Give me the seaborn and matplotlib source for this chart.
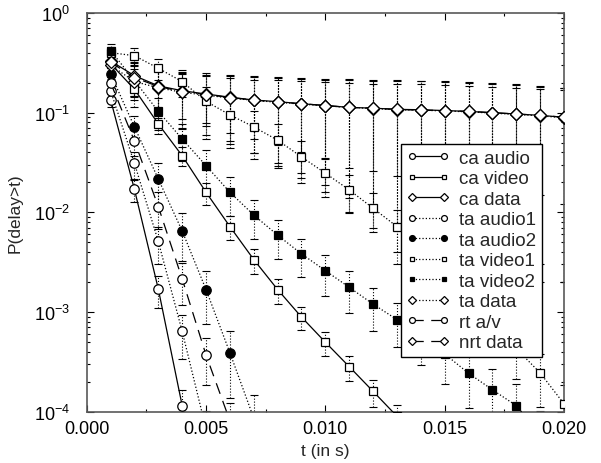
import numpy as np
import matplotlib
matplotlib.use("Agg")
import matplotlib.pyplot as plt
import seaborn as sns
from matplotlib.ticker import MultipleLocator, LogLocator, FormatStrFormatter, NullFormatter

# ---------------- data ----------------
t = [0.001, 0.002, 0.003, 0.004, 0.005, 0.006, 0.007, 0.008, 0.009, 0.010,
     0.011, 0.012, 0.013, 0.014, 0.015, 0.016, 0.017, 0.018, 0.019, 0.020]

ca_audio = [0.135, 0.017, 0.0017, 0.000115]
ca_video = [0.31, 0.172, 0.077, 0.037, 0.0159, 0.0072, 0.00336, 0.00168, 0.00089,
            0.000498, 0.000283, 0.00016, 0.00009]
ca_data = [0.33, 0.235, 0.186, 0.166, 0.154, 0.143, 0.134, 0.129, 0.123, 0.118,
           0.113, 0.111, 0.108, 0.107, 0.105, 0.103, 0.100, 0.097, 0.094, 0.090]
ta_audio1 = [0.166, 0.031, 0.0051, 0.00064, 0.000067]
ta_audio2 = [0.245, 0.072, 0.0216, 0.0065, 0.00168, 0.00039, 0.000086]
ta_video1 = [0.40, 0.373, 0.279, 0.205, 0.130, 0.095, 0.072, 0.053, 0.036, 0.0247,
             0.0168, 0.011, 0.0072, 0.0041, 0.0024, 0.0013, 0.00076, 0.00043,
             0.000245, 0.00012]
ta_video2 = [0.42, 0.21, 0.103, 0.0545, 0.0294, 0.0159, 0.0094, 0.0059, 0.00383,
             0.0026, 0.00177, 0.0012, 0.00084, 0.00057, 0.00038, 0.000243,
             0.000166, 0.000115, 0.00006]
ta_data = [0.30, 0.205, 0.178, 0.160, 0.150, 0.140, 0.133, 0.127, 0.122, 0.117,
           0.113, 0.110, 0.107, 0.106, 0.104, 0.102, 0.099, 0.096, 0.093, 0.089]
rt_av = [0.20, 0.052, 0.0114, 0.00215, 0.00037, 0.000081]
nrt_data = [0.32, 0.225, 0.183, 0.163, 0.152, 0.142, 0.134, 0.128, 0.123, 0.118,
            0.113, 0.111, 0.108, 0.106, 0.105, 0.103, 0.100, 0.097, 0.094, 0.090]

# relative error (fraction of value) per point
ca_audio_err = [0.15, 0.25, 0.35, 0.45]
ca_video_err = [0.10, 0.15, 0.20, 0.22, 0.25, 0.27, 0.28, 0.28, 0.26, 0.27, 0.28, 0.30, 0.30]
ta_audio1_err = [0.15, 0.30, 0.40, 0.47, 0.50]
ta_audio2_err = [0.15, 0.30, 0.45, 0.50, 0.55, 0.65, 0.70]
ta_video1_err = [0.15, 0.20, 0.24, 0.30, 0.40, 0.45, 0.45, 0.45, 0.45, 0.42,
                 0.42, 0.42, 0.45, 0.45, 0.45, 0.50, 0.50, 0.50, 0.55, 0.55]
ta_video2_err = [0.17, 0.30, 0.35, 0.40, 0.42, 0.42, 0.42, 0.42, 0.42, 0.44,
                 0.45, 0.46, 0.47, 0.48, 0.50, 0.55, 0.60, 0.65, 0.70]
rt_av_err = [0.15, 0.30, 0.40, 0.45, 0.50, 0.50]
# absolute errors for the data series
ca_data_abs = [0.10, 0.09, 0.085, 0.08, 0.08, 0.08, 0.08, 0.082, 0.083, 0.084,
               0.085, 0.085, 0.085, 0.085, 0.083, 0.083, 0.082, 0.080, 0.079, 0.078]
ta_data_abs = [0.10, 0.09, 0.09, 0.09, 0.09, 0.092, 0.094, 0.096, 0.097, 0.098,
               0.099, 0.10, 0.10, 0.10, 0.10, 0.098, 0.095, 0.092, 0.090, 0.087]
nrt_data_abs = [0.10, 0.09, 0.09, 0.095, 0.097, 0.098, 0.10, 0.10, 0.101, 0.102,
                0.103, 0.104, 0.105, 0.104, 0.103, 0.10, 0.098, 0.095, 0.092, 0.088]

labels = ["ca audio", "ca video", "ca data", "ta audio1", "ta audio2",
          "ta video1", "ta video2", "ta data", "rt a/v", "nrt data"]
values = [ca_audio, ca_video, ca_data, ta_audio1, ta_audio2,
          ta_video1, ta_video2, ta_data, rt_av, nrt_data]
errs = [np.array(ca_audio_err) * np.array(ca_audio),
        np.array(ca_video_err) * np.array(ca_video),
        np.array(ca_data_abs),
        np.array(ta_audio1_err) * np.array(ta_audio1),
        np.array(ta_audio2_err) * np.array(ta_audio2),
        np.array(ta_video1_err) * np.array(ta_video1),
        np.array(ta_video2_err) * np.array(ta_video2),
        np.array(ta_data_abs),
        np.array(rt_av_err) * np.array(rt_av),
        np.array(nrt_data_abs)]

# ---------------- style ----------------
sns.set_theme(style="ticks")
plt.rcParams['font.family'] = ['Liberation Sans', 'DejaVu Sans']
plt.rcParams['mathtext.fontset'] = 'custom'
plt.rcParams['mathtext.rm'] = 'Liberation Sans'
plt.rcParams['mathtext.it'] = 'Liberation Sans:italic'

dash = (0, (9, 6))
styles = [
    ("o", "white", "-"), ("s", "white", "-"), ("D", "white", "-"),
    ("o", "white", ":"), ("o", "black", ":"), ("s", "white", ":"),
    ("s", "black", ":"), ("D", "white", ":"), ("o", "white", dash),
    ("D", "white", dash),
]
msizes = {"o": 6.8, "s": 5.4, "D": 6.6}

fig = plt.figure(figsize=(6.01, 4.64), dpi=100)
ax = fig.add_axes([0.1443, 0.1106, 0.7941, 0.8592])
ax.set_yscale("log")

for i, (lab, vals, err, (mk, fc, ls)) in enumerate(zip(labels, values, errs, styles)):
    n = len(vals)
    x = np.array(t[:n])
    v = np.array(vals)
    lower = np.minimum(err, v - 1e-6)
    eb = ax.errorbar(x, v, yerr=[lower, err], fmt="none", ecolor="black",
                     elinewidth=0.8, capsize=3.0, capthick=0.8, zorder=2 + i * 0.01)
    for lc in eb.lines[2]:
        lc.set_linestyle(":")
    sns.lineplot(x=x, y=v, ax=ax, color="black", marker=mk, markersize=msizes[mk],
                 markerfacecolor=fc, markeredgecolor="black", markeredgewidth=0.9,
                 linestyle=ls, linewidth=0.9, label=lab, zorder=3 + i * 0.01)

ax.set_xlim(0, 0.020)
ax.set_ylim(1e-4, 1)
ax.xaxis.set_major_locator(MultipleLocator(0.005))
ax.xaxis.set_minor_locator(MultipleLocator(0.0025))
ax.xaxis.set_major_formatter(FormatStrFormatter("%.3f"))
ax.yaxis.set_major_locator(LogLocator(base=10, numticks=10))
ax.yaxis.set_minor_locator(LogLocator(base=10, subs=np.arange(2, 10), numticks=20))
ax.yaxis.set_minor_formatter(NullFormatter())
ax.tick_params(which="both", direction="in", top=True, right=True, colors="black",
               labelsize=13)
ax.tick_params(which="major", length=5, width=0.8)
ax.tick_params(axis="x", which="major", pad=6)
ax.tick_params(axis="y", which="major", pad=12)
ax.tick_params(which="minor", length=2.5, width=0.8)
for s in ax.spines.values():
    s.set_color("0.35")
    s.set_linewidth(1.2)

ax.set_xlabel("t (in s)", fontsize=12.5, labelpad=4)
ax.set_ylabel("P(delay>t)", fontsize=12.5, labelpad=8)

leg = ax.legend(loc="upper right", bbox_to_anchor=(0.954, 0.671), borderaxespad=0,
                numpoints=2, handlelength=2.3, handletextpad=0.5, fontsize=13.5,
                labelspacing=0.18, borderpad=0.3, markerscale=0.62,
                fancybox=False, framealpha=1, edgecolor="black")
leg.get_frame().set_linewidth(1.0)
leg.set_zorder(10)

fig.savefig("out.png", dpi=100)
